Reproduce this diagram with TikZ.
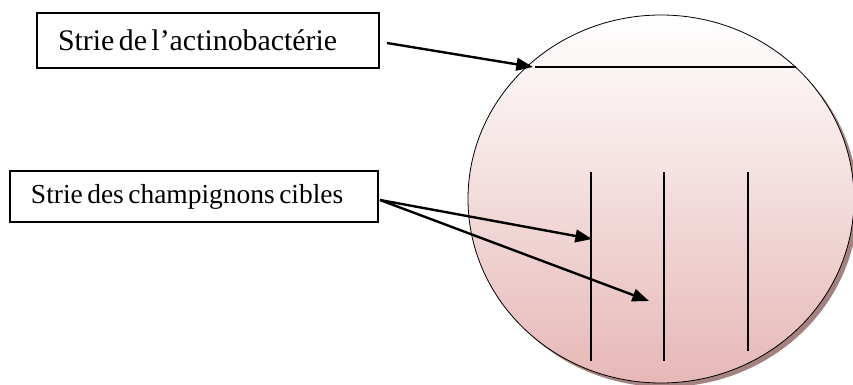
\documentclass[tikz,border=0pt]{standalone}
\usepackage{fontspec}
\setmainfont{Liberation Serif}
\usetikzlibrary{arrows.meta}
\definecolor{dishpink}{RGB}{230,184,183}
\definecolor{dishshadow}{RGB}{165,130,130}
\tikzset{
  label box/.style={draw, line width=1.1pt, rectangle, align=left, inner ysep=0pt},
  pointer/.style={line width=1.8pt, -{Triangle[length=12.5pt,width=9.5pt]}},
  streak/.style={line width=1.2pt},
}
\begin{document}
\begin{tikzpicture}[x=0.75pt,y=-0.75pt]
  \useasboundingbox (0,0) rectangle (853,385);

  % Petri dish with its drop shadow and shaded agar
  \fill[dishshadow] (665,203) ellipse [x radius=193, y radius=184];
  \shade[top color=white, bottom color=dishpink, draw=black, line width=0.6pt]
    (661,199) ellipse [x radius=193, y radius=184];

  % streak of the actinobacterium along the top
  \coordinate (a1) at (535,67);
  \coordinate (a2) at (796,67);
  \draw[line width=1.4pt] (a1) -- (a2);

  % streaks of the target fungi
  \coordinate (f1t) at (591,172); \coordinate (f1b) at (591,361);
  \coordinate (f2t) at (664,172); \coordinate (f2b) at (664,361);
  \coordinate (f3t) at (748,172); \coordinate (f3b) at (748,351);
  \draw[streak] (f1t) -- (f1b);
  \draw[streak] (f2t) -- (f2b);
  \draw[streak] (f3t) -- (f3b);

  % labels
  \node[label box, minimum height=41.25pt, text width=225pt, inner xsep=15.75pt]
    (b1) at (208,40.5) {\fontsize{22.4}{26}\selectfont Strie de l’actinobactérie};
  \node[label box, minimum height=38.25pt, text width=244.5pt, inner xsep=15.75pt]
    (b2) at (194,196.5) {\fontsize{20.6}{24}\selectfont Strie des champignons cibles};

  % pointers
  \coordinate (s1) at (387,43);
  \coordinate (t1) at (533,67);
  \coordinate (s2) at (380,200);
  \coordinate (t2) at (592,239);
  \coordinate (t3) at (649,301);
  \draw[pointer] (s1) -- (t1);
  \draw[pointer] (s2) -- (t2);
  \draw[pointer] (s2) -- (t3);
\end{tikzpicture}
\end{document}
